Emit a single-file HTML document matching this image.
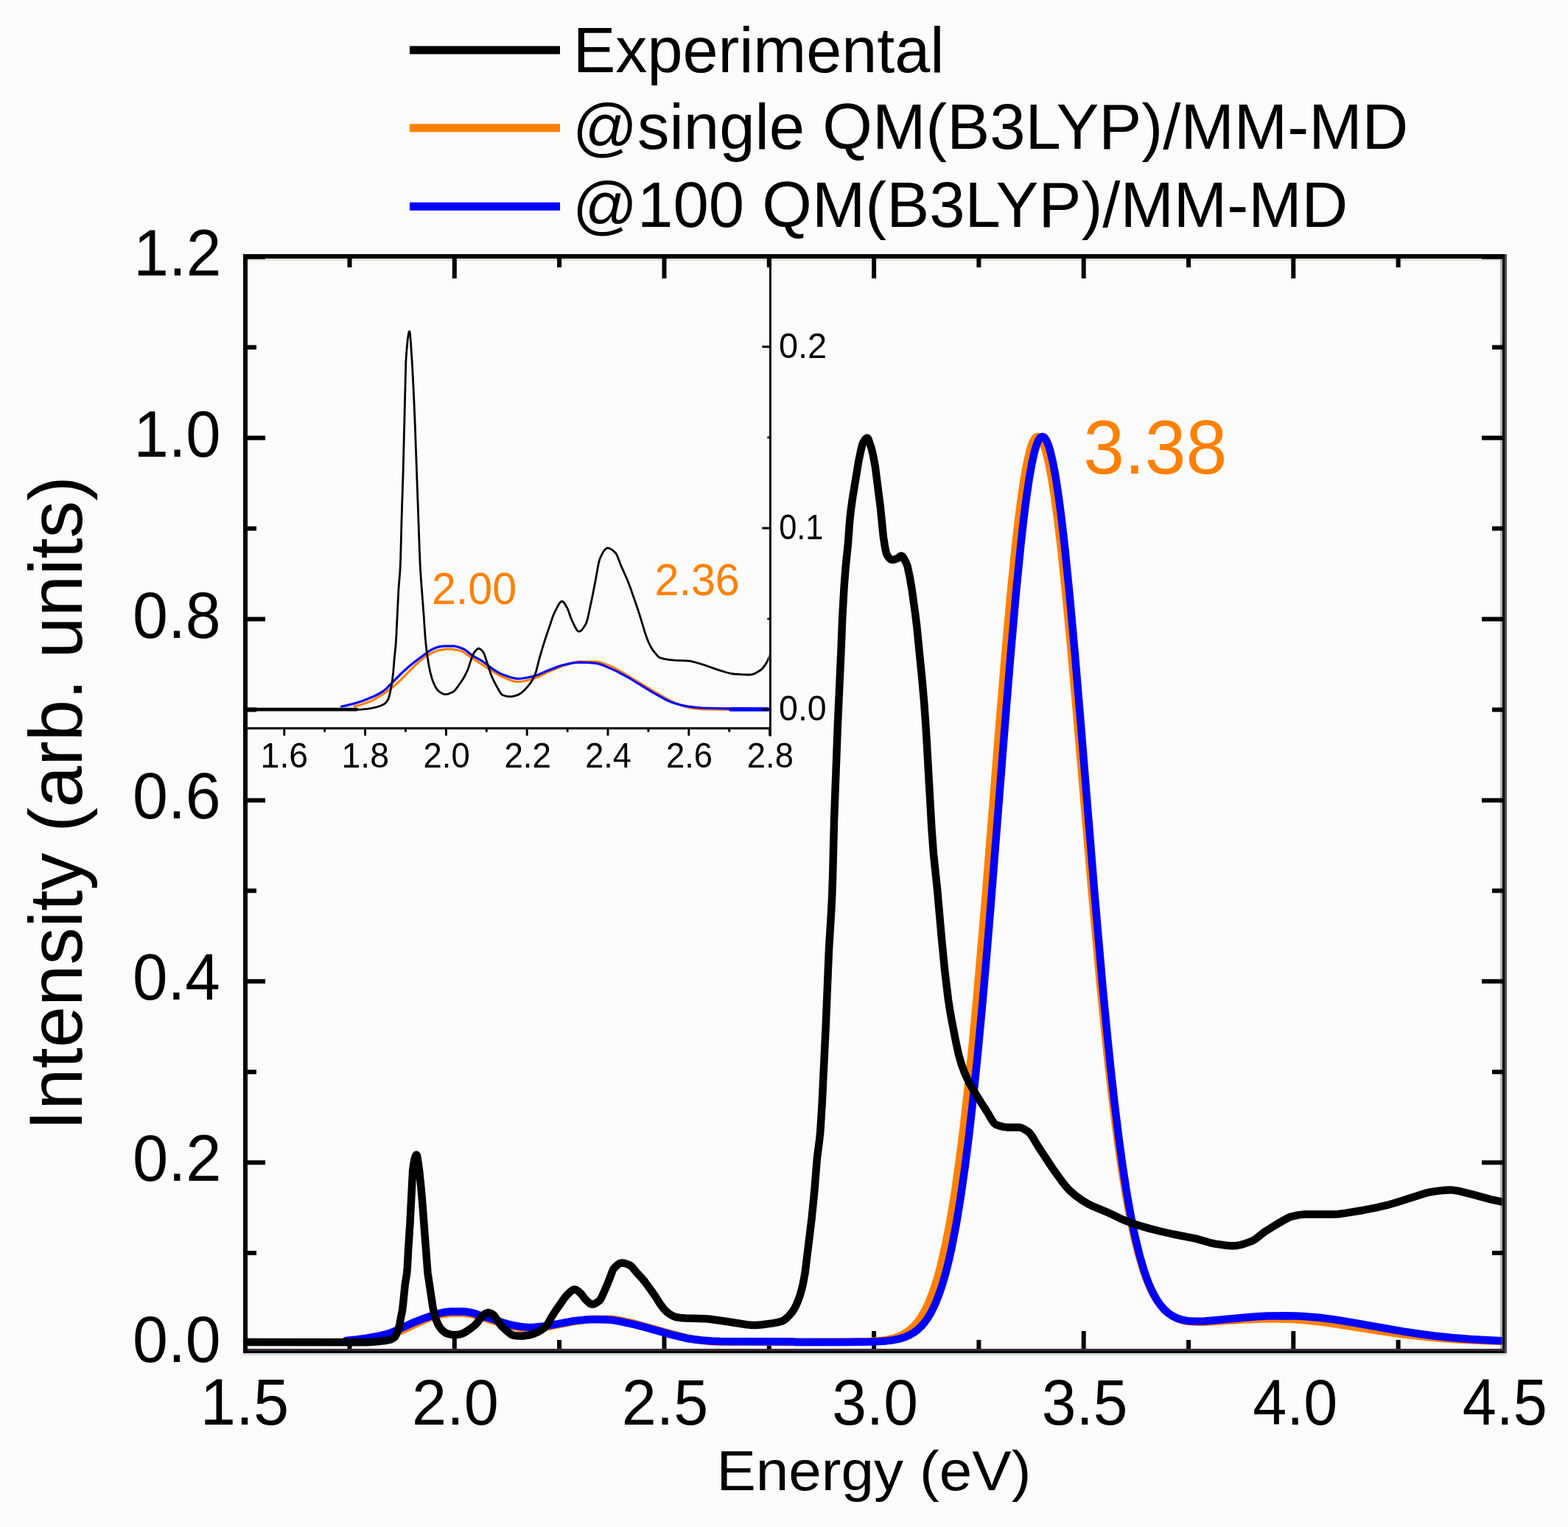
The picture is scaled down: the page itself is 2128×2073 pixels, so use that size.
<!DOCTYPE html><html><head><meta charset="utf-8"><style>html,body{margin:0;padding:0;background:#fbfbfb}svg{display:block}text{font-family:"Liberation Sans",Arial,sans-serif}</style></head><body>
<svg width="2128" height="2073" viewBox="0 0 2128 2073">
<rect width="2128" height="2073" fill="#fbfbfb"/>
<defs><clipPath id="cm"><rect x="336" y="351" width="1702.5" height="1480"/></clipPath><clipPath id="ci"><rect x="336" y="351" width="707.5" height="637"/></clipPath></defs>
<path d="M336 352.5 H2036" stroke="#e0e0d8" stroke-width="3" fill="none"/>
<path d="M330 1838.3 H2045" stroke="#d0dcd8" stroke-width="3.2" fill="none"/>
<path d="M2037.5 351 V1831" stroke="#b0b0b0" stroke-width="3" fill="none"/>
<path d="M2043.5 345 V1837" stroke="#55505a" stroke-width="3" fill="none"/>
<path d="M333 345 V1837 M330 348 H2042 M330 1834 H2042" stroke="#000" stroke-width="6" fill="none"/>
<path d="M2040.5 345 V1837" stroke="#000" stroke-width="3" fill="none"/>
<path d="M336 1832.5 H2042" stroke="#3a2c3a" stroke-width="3" fill="none"/>
<path d="M336 1824.1 h24 M336 1701.1 h12 M2039 1701.1 h-14 M336 1578.2 h24 M2039 1578.2 h-28 M336 1455.2 h12 M2039 1455.2 h-14 M336 1332.3 h24 M2039 1332.3 h-28 M336 1209.3 h12 M2039 1209.3 h-14 M336 1086.4 h24 M2039 1086.4 h-28 M336 963.4 h12 M2039 963.4 h-14 M336 840.5 h24 M2039 840.5 h-28 M336 717.5 h12 M2039 717.5 h-14 M336 594.6 h24 M2039 594.6 h-28 M336 471.6 h12 M2039 471.6 h-14 M336 348.7 h24 M2039 348.7 h-28 M474.5 1831 v-12 M474.5 351 v12 M616.8 1831 v-24 M616.8 351 v27 M759.1 1831 v-12 M759.1 351 v12 M901.5 1831 v-24 M901.5 351 v27 M1043.8 1831 v-12 M1043.8 351 v12 M1186.1 1831 v-24 M1186.1 351 v27 M1328.4 1831 v-12 M1328.4 351 v12 M1470.7 1831 v-24 M1470.7 351 v27 M1613.0 1831 v-12 M1613.0 351 v12 M1755.3 1831 v-24 M1755.3 351 v27 M1897.6 1831 v-12 M1897.6 351 v12" stroke="#000" stroke-width="6" fill="none"/>
<g clip-path="url(#cm)" fill="none" stroke-linejoin="round" stroke-linecap="round">
<path d="M487.8 1819.7 L497.3 1818.7 L508.8 1816.9 L516.3 1815.2 L525.3 1812.8 L536.4 1809.3 L547.9 1805.1 L575.9 1792.0 L584.9 1788.4 L594.4 1785.6 L601.4 1784.0 L607.9 1783.1 L616.9 1782.4 L627.4 1782.6 L635.9 1783.4 L638.9 1783.9 L642.9 1784.9 L652.9 1788.2 L689.9 1799.3 L706.4 1802.8 L711.4 1803.5 L715.9 1803.9 L720.4 1803.9 L725.9 1803.6 L741.4 1801.7 L774.9 1794.6 L797.4 1791.2 L804.9 1790.7 L827.4 1790.7 L832.4 1791.0 L840.9 1792.4 L855.5 1795.3 L910.0 1810.5 L933.5 1816.5 L945.5 1818.8 L954.0 1820.1 L967.0 1821.2 L977.5 1821.7 L1062.0 1822.0 L1150.5 1821.8 L1176.6 1821.3 L1194.1 1820.1 L1203.1 1818.9 L1211.1 1817.2 L1218.1 1815.0 L1224.6 1812.1 L1230.6 1808.5 L1236.1 1804.3 L1241.1 1799.5 L1246.1 1793.5 L1250.6 1786.9 L1254.6 1780.0 L1258.6 1772.0 L1262.1 1764.0 L1265.6 1754.9 L1269.1 1744.6 L1272.6 1733.1 L1276.1 1720.3 L1282.6 1692.5 L1289.1 1659.2 L1295.6 1620.0 L1301.6 1578.1 L1307.6 1530.6 L1313.6 1477.6 L1319.6 1419.1 L1325.6 1355.5 L1337.1 1222.0 L1356.6 978.9 L1363.6 894.3 L1371.1 810.1 L1378.1 740.3 L1382.1 705.3 L1386.1 674.4 L1390.1 648.0 L1393.6 628.9 L1397.6 611.8 L1399.6 605.3 L1401.1 601.3 L1403.1 597.1 L1404.6 594.9 L1406.6 593.1 L1408.1 592.8 L1409.6 593.1 L1411.6 594.7 L1413.6 597.6 L1415.6 601.7 L1417.1 605.6 L1419.1 611.9 L1423.1 628.1 L1427.1 649.0 L1431.1 674.3 L1435.1 703.6 L1439.6 741.1 L1446.6 807.6 L1454.1 887.4 L1461.6 973.3 L1481.7 1209.9 L1493.2 1337.2 L1499.2 1398.1 L1504.7 1449.9 L1510.7 1501.8 L1516.2 1544.8 L1521.7 1583.6 L1527.7 1621.0 L1533.2 1650.9 L1539.2 1679.2 L1545.2 1703.1 L1551.2 1723.2 L1554.2 1731.9 L1557.7 1741.0 L1561.2 1749.0 L1564.7 1756.1 L1569.7 1764.8 L1574.7 1771.8 L1580.2 1778.1 L1585.7 1783.0 L1591.7 1787.0 L1598.2 1790.2 L1605.2 1792.5 L1613.2 1794.0 L1623.7 1794.8 L1636.2 1794.8 L1687.7 1791.4 L1713.7 1790.4 L1735.2 1790.3 L1755.2 1791.1 L1775.7 1792.8 L1797.8 1795.4 L1819.8 1798.6 L1888.3 1809.3 L1911.3 1812.4 L1933.8 1814.9 L1960.3 1817.3 L1987.8 1819.0 L2017.3 1820.3 L2051.3 1821.1" stroke="#ff8000" stroke-width="10.5"/>
<path d="M469.7 1819.9 L484.2 1818.5 L497.7 1816.6 L514.2 1813.6 L525.2 1811.0 L529.2 1809.8 L533.2 1808.2 L559.7 1795.9 L577.2 1789.2 L596.2 1782.8 L604.7 1781.2 L611.2 1780.5 L628.2 1780.4 L633.7 1781.0 L641.7 1782.5 L645.2 1783.5 L653.2 1786.5 L668.7 1790.7 L682.2 1795.5 L690.2 1797.8 L696.2 1799.2 L704.2 1800.6 L710.2 1801.4 L715.2 1801.9 L725.7 1801.7 L741.2 1800.2 L775.7 1793.8 L781.7 1792.9 L793.7 1791.7 L801.2 1791.3 L808.2 1791.2 L822.2 1791.6 L830.7 1792.1 L840.2 1793.6 L861.2 1798.1 L875.7 1801.9 L910.2 1811.6 L931.2 1816.7 L941.2 1818.3 L952.2 1819.5 L965.2 1820.4 L977.2 1820.9 L1011.2 1821.2 L1077.7 1821.5 L1078.2 1821.9 L1145.3 1821.9 L1181.8 1821.5 L1193.3 1821.1 L1202.8 1820.4 L1212.3 1819.2 L1220.3 1817.6 L1227.3 1815.5 L1233.8 1812.7 L1239.8 1809.3 L1245.3 1805.2 L1250.3 1800.5 L1255.3 1794.6 L1259.3 1788.9 L1263.3 1782.2 L1267.3 1774.3 L1270.8 1766.4 L1274.3 1757.4 L1277.8 1747.3 L1281.3 1735.8 L1284.8 1723.0 L1288.3 1708.7 L1291.3 1695.2 L1297.8 1661.6 L1303.8 1625.1 L1309.8 1583.0 L1315.3 1539.3 L1321.3 1486.0 L1327.3 1427.0 L1333.3 1362.7 L1338.8 1299.5 L1344.8 1226.9 L1364.3 978.5 L1371.3 892.2 L1378.8 806.3 L1385.3 740.3 L1389.3 704.6 L1392.8 676.9 L1396.8 649.5 L1400.3 629.8 L1402.3 620.3 L1404.3 612.1 L1406.3 605.4 L1407.8 601.3 L1409.8 597.0 L1411.3 594.8 L1413.3 593.1 L1414.8 592.8 L1416.3 593.2 L1418.3 595.0 L1419.8 597.3 L1421.8 601.6 L1423.3 605.6 L1425.3 612.2 L1429.3 629.3 L1432.8 648.4 L1436.8 674.7 L1440.8 705.5 L1444.8 740.2 L1451.3 804.2 L1458.8 887.2 L1466.3 976.7 L1485.3 1210.7 L1496.3 1337.4 L1501.8 1395.6 L1507.3 1449.7 L1512.8 1499.3 L1518.3 1544.2 L1523.8 1584.5 L1529.3 1620.1 L1534.8 1651.3 L1540.3 1678.2 L1546.3 1703.1 L1552.3 1723.8 L1555.3 1732.7 L1558.8 1742.0 L1561.8 1749.0 L1565.3 1756.3 L1569.8 1764.3 L1574.8 1771.6 L1579.8 1777.5 L1585.3 1782.5 L1591.3 1786.6 L1597.3 1789.5 L1603.8 1791.7 L1611.3 1793.1 L1616.3 1793.6 L1621.8 1793.8 L1634.8 1793.5 L1647.3 1792.5 L1690.8 1788.4 L1705.8 1787.3 L1720.3 1786.6 L1746.8 1786.2 L1757.8 1786.4 L1769.3 1787.0 L1790.8 1788.8 L1814.3 1791.9 L1836.8 1795.6 L1903.3 1807.4 L1925.3 1810.7 L1946.3 1813.5 L1970.3 1816.0 L1995.3 1818.0 L2021.8 1819.5 L2051.3 1820.6" stroke="#0000ff" stroke-width="10.5"/>
<path d="M326.5 1822.0 L496.9 1822.2 L512.1 1821.3 L524.9 1819.7 L528.5 1818.9 L531.3 1818.0 L533.7 1816.7 L535.7 1815.1 L536.9 1813.3 L538.5 1810.0 L540.1 1806.1 L541.3 1802.4 L542.5 1797.5 L544.1 1788.2 L545.7 1781.0 L546.9 1772.0 L549.7 1744.0 L552.1 1729.3 L552.9 1719.6 L554.1 1696.8 L556.5 1660.2 L560.1 1589.5 L560.9 1582.8 L562.5 1574.2 L564.1 1569.0 L564.9 1567.8 L565.3 1567.7 L565.7 1568.2 L566.1 1569.5 L567.3 1576.6 L569.3 1591.5 L571.3 1610.8 L572.9 1628.8 L580.5 1728.2 L587.3 1773.7 L588.5 1779.9 L590.1 1786.2 L592.5 1793.2 L594.5 1797.8 L596.9 1802.0 L599.3 1804.9 L602.9 1808.3 L605.7 1810.0 L611.7 1811.8 L616.1 1812.3 L619.7 1812.1 L624.1 1811.3 L626.9 1810.6 L629.3 1809.6 L632.5 1807.8 L638.9 1803.5 L644.5 1799.0 L647.7 1795.7 L652.5 1788.8 L656.1 1785.0 L659.7 1782.9 L662.5 1782.1 L664.1 1782.2 L665.7 1782.8 L668.5 1784.2 L669.7 1785.0 L671.3 1786.9 L678.9 1797.9 L681.3 1800.8 L686.5 1805.8 L692.5 1810.8 L694.9 1812.3 L696.5 1812.8 L701.7 1813.6 L708.9 1813.8 L718.5 1812.6 L724.1 1810.8 L730.1 1808.1 L734.9 1805.4 L738.5 1802.7 L742.1 1799.2 L744.1 1796.2 L748.1 1788.8 L753.3 1780.5 L766.5 1761.5 L770.1 1757.3 L774.5 1753.2 L777.3 1751.2 L778.9 1750.6 L780.5 1750.6 L782.5 1751.3 L784.5 1752.7 L788.5 1756.2 L793.7 1763.2 L798.9 1768.3 L801.7 1770.2 L803.7 1770.7 L806.1 1770.4 L808.9 1769.1 L812.1 1766.8 L813.7 1765.5 L814.9 1764.0 L817.3 1759.4 L822.5 1747.7 L827.3 1736.0 L830.9 1726.1 L832.5 1722.8 L835.3 1719.6 L838.5 1716.8 L841.3 1715.1 L843.7 1714.5 L846.9 1714.8 L850.5 1715.8 L855.3 1717.8 L857.3 1719.4 L862.9 1726.3 L870.9 1734.9 L875.7 1740.7 L886.1 1755.1 L890.1 1761.0 L895.7 1770.0 L901.3 1777.4 L904.5 1780.6 L908.1 1783.4 L913.7 1786.7 L916.9 1788.0 L922.9 1788.9 L930.5 1789.6 L956.5 1790.3 L962.9 1790.7 L980.9 1793.2 L1013.3 1798.3 L1020.1 1799.0 L1026.5 1798.9 L1034.9 1798.2 L1048.9 1796.4 L1055.7 1795.1 L1061.3 1793.5 L1064.5 1791.8 L1068.1 1789.0 L1072.1 1784.8 L1076.1 1779.9 L1078.5 1775.9 L1080.9 1771.0 L1083.7 1764.2 L1086.1 1757.4 L1089.3 1745.4 L1092.5 1728.6 L1101.7 1653.3 L1105.3 1616.9 L1108.9 1572.2 L1112.1 1547.6 L1113.3 1536.1 L1115.7 1497.8 L1120.9 1389.1 L1124.9 1291.0 L1128.1 1238.2 L1129.3 1214.3 L1130.1 1190.5 L1132.1 1111.4 L1136.9 983.7 L1141.3 887.2 L1143.3 836.8 L1145.7 795.2 L1147.7 769.5 L1150.9 738.4 L1153.3 705.9 L1154.9 691.4 L1157.3 674.5 L1165.3 626.0 L1168.9 608.8 L1170.1 604.3 L1171.3 601.1 L1174.1 596.5 L1175.3 595.2 L1176.5 594.5 L1177.3 594.7 L1177.7 595.1 L1178.9 597.3 L1182.5 608.1 L1184.9 617.8 L1187.7 632.7 L1194.9 688.9 L1198.9 729.0 L1201.3 744.3 L1202.9 751.2 L1204.1 753.8 L1206.5 757.3 L1208.5 759.2 L1210.1 759.9 L1213.3 759.7 L1218.1 758.1 L1221.7 755.2 L1222.9 754.6 L1223.7 754.7 L1224.5 755.1 L1226.1 756.9 L1229.3 763.0 L1230.9 766.8 L1231.7 769.4 L1234.9 784.4 L1237.7 801.2 L1242.1 832.8 L1244.1 849.0 L1250.9 917.1 L1254.1 952.8 L1256.9 992.5 L1264.5 1126.3 L1266.9 1158.7 L1272.1 1208.1 L1277.7 1271.6 L1282.5 1320.7 L1286.9 1356.7 L1289.3 1372.2 L1291.7 1385.8 L1297.7 1416.4 L1301.3 1432.6 L1304.9 1445.1 L1309.3 1457.0 L1314.5 1468.4 L1318.9 1476.5 L1331.3 1496.6 L1340.1 1510.2 L1346.1 1520.5 L1348.9 1524.5 L1350.5 1526.0 L1351.7 1526.8 L1357.3 1528.7 L1362.1 1529.9 L1366.5 1530.4 L1382.1 1530.4 L1384.9 1530.8 L1387.3 1531.6 L1389.7 1532.8 L1395.7 1536.5 L1398.1 1539.0 L1400.9 1542.9 L1410.1 1558.2 L1428.1 1585.5 L1439.7 1601.7 L1446.1 1610.0 L1451.7 1616.2 L1459.3 1622.8 L1467.7 1629.0 L1476.5 1634.3 L1484.5 1638.2 L1502.5 1645.6 L1524.9 1656.2 L1534.5 1659.9 L1545.3 1663.5 L1559.3 1667.6 L1574.5 1671.5 L1592.1 1675.5 L1623.3 1681.6 L1642.1 1687.0 L1649.3 1688.6 L1664.5 1690.7 L1670.1 1691.2 L1674.9 1691.2 L1678.9 1690.9 L1682.9 1690.2 L1687.7 1688.9 L1692.9 1687.1 L1698.9 1684.9 L1702.1 1683.2 L1705.7 1680.7 L1716.1 1672.4 L1730.9 1663.1 L1746.5 1654.1 L1750.5 1652.3 L1753.7 1651.3 L1762.5 1649.4 L1769.3 1648.6 L1808.1 1648.6 L1815.7 1648.2 L1826.1 1646.9 L1851.3 1642.7 L1866.9 1639.7 L1882.1 1636.2 L1894.9 1632.5 L1934.1 1619.9 L1940.1 1618.5 L1950.5 1616.9 L1958.5 1616.0 L1965.7 1615.5 L1970.9 1615.6 L1976.1 1616.2 L1981.7 1617.4 L1999.7 1621.9 L2022.5 1628.1 L2051.3 1634.3" stroke="#000" stroke-width="10.5"/>
</g>
<g clip-path="url(#ci)" fill="none" stroke-linejoin="round" stroke-linecap="round">
<path d="M481.0 958.6 L486.0 957.6 L491.0 956.2 L497.5 954.0 L503.0 951.9 L507.0 949.9 L511.5 947.4 L519.0 942.8 L523.5 939.8 L532.0 933.5 L540.0 926.8 L544.5 922.4 L555.5 911.0 L566.0 900.8 L570.0 897.1 L574.5 893.5 L581.5 889.0 L587.5 885.7 L590.5 884.3 L593.0 883.5 L597.5 882.4 L602.0 881.6 L605.5 881.2 L608.5 881.1 L613.5 881.4 L619.5 882.3 L624.0 883.2 L627.5 884.5 L631.5 886.9 L640.0 892.9 L671.0 913.0 L675.5 915.7 L679.0 917.5 L690.0 922.4 L694.5 924.0 L698.5 925.1 L701.0 925.4 L703.0 925.5 L706.0 925.4 L709.0 925.0 L715.0 923.7 L725.0 921.0 L730.0 919.0 L743.0 912.6 L758.0 906.2 L764.0 904.0 L774.5 900.5 L779.0 899.2 L782.5 898.5 L786.0 898.2 L808.1 898.2 L810.1 898.3 L814.1 899.0 L818.6 900.4 L829.6 904.8 L833.6 906.6 L840.1 910.2 L857.1 920.3 L886.6 938.2 L905.1 948.9 L911.1 952.0 L919.1 955.4 L925.1 957.7 L930.1 959.3 L934.6 960.3 L943.6 961.8 L949.1 962.5 L954.1 962.8 L995.1 963.3 L1049.6 963.4 L1050.1 963.2" stroke="#ff8000" stroke-width="3.2"/>
<path d="M463.5 959.0 L470.5 957.6 L478.0 955.8 L485.0 953.8 L491.5 951.7 L499.0 948.8 L507.5 945.2 L513.0 942.5 L518.0 939.6 L521.0 937.6 L524.5 934.6 L545.5 913.4 L554.5 905.3 L561.0 899.9 L568.0 894.5 L582.0 884.2 L585.5 882.0 L587.5 881.1 L592.5 879.1 L595.5 878.1 L598.0 877.6 L602.5 877.2 L614.0 877.0 L617.0 877.2 L620.5 878.0 L624.5 879.3 L630.0 881.6 L633.0 883.5 L640.5 889.5 L644.0 891.6 L652.0 896.1 L655.5 898.2 L659.0 900.7 L668.0 907.8 L675.0 912.2 L679.5 914.6 L683.0 916.1 L692.0 919.3 L697.5 920.7 L700.0 921.1 L702.5 921.3 L708.5 921.0 L715.0 920.0 L725.0 917.8 L730.5 916.0 L743.0 910.4 L758.5 904.5 L764.5 902.7 L775.5 900.4 L781.5 899.5 L787.0 899.2 L797.1 899.5 L808.6 900.4 L812.6 901.2 L817.6 902.8 L831.1 908.6 L836.6 911.1 L843.6 914.8 L853.1 920.0 L886.1 940.1 L902.1 949.0 L907.1 951.5 L911.1 953.2 L916.6 955.0 L922.6 956.7 L928.6 958.1 L934.1 959.1 L944.1 960.3 L952.6 961.0 L967.1 961.5 L985.1 961.8 L1049.6 962.4 L1050.1 963.2" stroke="#0000ff" stroke-width="3.2"/>
<path d="M992 963 H1046" stroke="#0000ff" stroke-width="5.6"/>
<path d="M325.4 962.9 L469.7 963.4 L485.6 963.4 L490.2 963.2 L498.3 962.4 L504.6 961.4 L511.2 959.9 L516.9 958.0 L520.5 956.3 L522.9 954.6 L525.0 952.2 L527.1 948.7 L528.3 944.9 L529.5 939.7 L531.3 930.5 L532.5 922.7 L533.7 912.7 L535.2 894.1 L537.0 876.5 L537.9 862.2 L540.9 800.0 L543.0 774.1 L543.6 760.7 L545.1 703.5 L547.2 637.4 L550.8 491.8 L551.7 477.6 L553.2 461.5 L554.4 453.2 L555.0 450.9 L555.6 449.8 L555.9 450.0 L556.5 453.2 L557.4 463.5 L559.5 495.6 L561.3 530.8 L563.1 572.7 L569.4 748.0 L570.3 769.4 L571.2 784.0 L575.1 835.3 L576.9 862.5 L578.1 875.6 L579.6 888.2 L582.0 903.2 L583.8 912.1 L586.2 921.1 L587.1 923.8 L588.6 927.4 L590.4 931.3 L591.9 934.1 L593.4 936.3 L594.9 937.9 L597.9 940.1 L600.3 941.5 L602.7 942.4 L604.8 942.6 L608.1 942.1 L612.3 940.5 L615.0 939.2 L617.4 937.1 L620.7 933.0 L626.4 924.8 L629.4 920.0 L632.1 915.0 L635.1 908.6 L639.9 893.8 L641.7 889.5 L643.2 886.4 L644.1 885.0 L647.1 881.6 L648.6 880.5 L649.8 880.3 L651.3 880.8 L652.8 881.9 L655.5 884.9 L656.4 886.3 L658.2 890.8 L665.7 913.9 L667.8 919.2 L670.2 924.4 L672.9 929.6 L678.3 939.3 L679.5 941.1 L680.7 942.6 L681.6 943.3 L682.2 943.6 L684.9 944.5 L687.3 945.2 L690.9 945.7 L694.2 945.7 L698.1 944.9 L703.5 943.1 L705.9 941.8 L708.6 939.7 L711.0 937.5 L714.0 934.4 L716.7 931.4 L719.1 928.4 L720.9 925.7 L722.7 922.7 L726.0 916.0 L727.8 910.6 L732.0 894.0 L736.8 877.7 L741.0 864.5 L749.4 839.6 L751.2 834.7 L753.0 830.6 L757.5 821.8 L759.0 819.4 L760.2 817.8 L761.1 817.0 L762.0 816.5 L762.9 816.4 L763.5 816.6 L764.4 817.2 L765.3 818.1 L767.1 820.7 L770.1 826.0 L771.0 828.0 L774.9 839.3 L776.1 842.2 L781.2 852.6 L782.7 855.0 L783.9 856.4 L785.1 857.2 L786.0 857.3 L787.2 857.0 L788.4 856.3 L789.6 855.2 L790.8 853.8 L793.8 849.2 L795.3 846.6 L796.2 844.3 L797.4 840.1 L798.6 835.0 L804.0 809.5 L808.2 788.0 L811.8 767.5 L813.3 760.9 L813.9 759.1 L815.7 755.1 L817.5 751.4 L819.0 748.8 L820.5 746.7 L821.7 745.4 L822.9 744.5 L824.1 744.0 L825.6 744.1 L827.1 744.5 L828.9 745.3 L830.7 746.5 L832.8 748.2 L835.2 750.4 L836.1 751.6 L837.3 753.8 L838.8 757.3 L843.0 768.4 L851.1 786.5 L855.3 797.4 L865.2 826.0 L869.1 838.1 L874.5 856.2 L877.8 865.9 L879.9 871.3 L882.9 877.5 L886.2 882.9 L891.7 889.7 L893.5 891.5 L895.0 892.6 L897.1 893.4 L900.7 894.4 L907.9 895.6 L915.4 896.3 L933.1 897.1 L936.4 897.4 L939.7 898.1 L945.1 899.5 L957.1 903.2 L974.5 909.4 L986.5 913.0 L992.5 914.5 L996.4 915.0 L1006.9 915.7 L1015.6 916.0 L1019.5 915.8 L1022.2 915.2 L1024.9 914.1 L1028.2 912.3 L1032.1 909.8 L1033.6 908.6 L1035.1 907.1 L1038.1 903.2 L1039.9 900.3 L1042.0 896.4 L1043.2 893.9 L1044.4 890.8 L1046.8 882.9 L1050.1 869.6" stroke="#000" stroke-width="2.8"/>
<path d="M336 963.1 H484" stroke="#000" stroke-width="4.6"/>
</g>
<path d="M336 988.8 H1046.8 M1045.4 351 V999.6 M385.8 988.8 v10 M440.7 988.8 v5 M495.6 988.8 v10 M550.5 988.8 v5 M605.4 988.8 v10 M660.3 988.8 v5 M715.2 988.8 v10 M770.1 988.8 v5 M825.0 988.8 v10 M879.9 988.8 v5 M934.8 988.8 v10 M989.7 988.8 v5 M1044.6 988.8 v10 M1045.4 963.2 h-11 M1045.4 840.1 h-4 M1045.4 717.0 h-11 M1045.4 593.9 h-4 M1045.4 470.8 h-11" stroke="#000" stroke-width="2.9" fill="none"/>
<path d="M556 68 H760" stroke="#000" stroke-width="11"/>
<path d="M556 173.8 H760" stroke="#ff8000" stroke-width="11"/>
<path d="M556 280.2 H760" stroke="#0000ff" stroke-width="11"/>
<text x="777.7" y="97.9" font-size="87.50" textLength="503.8" lengthAdjust="spacingAndGlyphs" fill="#000">Experimental</text>
<text x="776.9" y="201.6" font-size="87.50" textLength="1134.4" lengthAdjust="spacingAndGlyphs" fill="#000">@single QM(B3LYP)/MM-MD</text>
<text x="776.9" y="307.8" font-size="87.50" textLength="1052.5" lengthAdjust="spacingAndGlyphs" fill="#000">@100 QM(B3LYP)/MM-MD</text>
<text x="180.1" y="1849.1" font-size="89.29" textLength="119.6" lengthAdjust="spacingAndGlyphs" fill="#000">0.0</text>
<text x="180.0" y="1603.2" font-size="89.29" textLength="120.5" lengthAdjust="spacingAndGlyphs" fill="#000">0.2</text>
<text x="180.1" y="1357.3" font-size="89.29" textLength="118.7" lengthAdjust="spacingAndGlyphs" fill="#000">0.4</text>
<text x="180.1" y="1111.4" font-size="89.29" textLength="119.6" lengthAdjust="spacingAndGlyphs" fill="#000">0.6</text>
<text x="180.1" y="865.5" font-size="89.29" textLength="119.6" lengthAdjust="spacingAndGlyphs" fill="#000">0.8</text>
<text x="181.4" y="619.6" font-size="89.29" textLength="118.2" lengthAdjust="spacingAndGlyphs" fill="#000">1.0</text>
<text x="181.3" y="373.7" font-size="89.29" textLength="119.2" lengthAdjust="spacingAndGlyphs" fill="#000">1.2</text>
<text x="271.8" y="1934.3" font-size="88.84" textLength="120.4" lengthAdjust="spacingAndGlyphs" fill="#000">1.5</text>
<text x="559.1" y="1934.3" font-size="87.57" textLength="117.6" lengthAdjust="spacingAndGlyphs" fill="#000">2.0</text>
<text x="843.7" y="1934.3" font-size="87.57" textLength="117.6" lengthAdjust="spacingAndGlyphs" fill="#000">2.5</text>
<text x="1129.2" y="1934.3" font-size="87.57" textLength="116.7" lengthAdjust="spacingAndGlyphs" fill="#000">3.0</text>
<text x="1413.8" y="1934.3" font-size="87.57" textLength="116.7" lengthAdjust="spacingAndGlyphs" fill="#000">3.5</text>
<text x="1700.2" y="1934.3" font-size="87.57" textLength="115.0" lengthAdjust="spacingAndGlyphs" fill="#000">4.0</text>
<text x="1984.8" y="1934.3" font-size="88.84" textLength="115.0" lengthAdjust="spacingAndGlyphs" fill="#000">4.5</text>
<text x="972.4" y="2023.4" font-size="76.44" textLength="426.9" lengthAdjust="spacingAndGlyphs" fill="#000">Energy (eV)</text>
<text transform="translate(111.4 1534.8) rotate(-90)" x="0" y="0" font-size="102.03" textLength="888.6" lengthAdjust="spacingAndGlyphs">Intensity (arb. units)</text>
<text x="1470.3" y="643.0" font-size="103.57" textLength="194.8" lengthAdjust="spacingAndGlyphs" fill="#ff8000">3.38</text>
<text x="586.0" y="819.8" font-size="60.86" textLength="115.0" lengthAdjust="spacingAndGlyphs" fill="#ff8000">2.00</text>
<text x="888.5" y="807.7" font-size="60.71" textLength="115.3" lengthAdjust="spacingAndGlyphs" fill="#ff8000">2.36</text>
<text x="353.6" y="1042.1" font-size="47.43" textLength="64.6" lengthAdjust="spacingAndGlyphs" fill="#000">1.6</text>
<text x="463.4" y="1042.1" font-size="47.43" textLength="64.6" lengthAdjust="spacingAndGlyphs" fill="#000">1.8</text>
<text x="574.6" y="1042.1" font-size="47.43" textLength="63.1" lengthAdjust="spacingAndGlyphs" fill="#000">2.0</text>
<text x="684.4" y="1042.1" font-size="47.43" textLength="63.6" lengthAdjust="spacingAndGlyphs" fill="#000">2.2</text>
<text x="794.2" y="1042.1" font-size="47.43" textLength="62.6" lengthAdjust="spacingAndGlyphs" fill="#000">2.4</text>
<text x="904.0" y="1042.1" font-size="47.43" textLength="63.1" lengthAdjust="spacingAndGlyphs" fill="#000">2.6</text>
<text x="1013.8" y="1042.1" font-size="47.43" textLength="63.1" lengthAdjust="spacingAndGlyphs" fill="#000">2.8</text>
<text x="1057.0" y="978.0" font-size="47.43" textLength="64.7" lengthAdjust="spacingAndGlyphs" fill="#000">0.0</text>
<text x="1057.2" y="731.8" font-size="47.43" textLength="60.3" lengthAdjust="spacingAndGlyphs" fill="#000">0.1</text>
<text x="1057.0" y="485.6" font-size="47.43" textLength="65.2" lengthAdjust="spacingAndGlyphs" fill="#000">0.2</text>
</svg></body></html>
